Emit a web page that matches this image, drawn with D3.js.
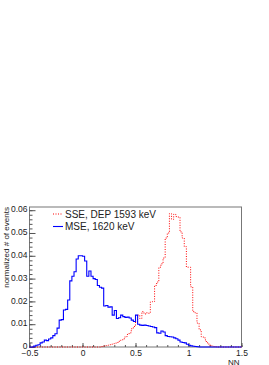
<!DOCTYPE html>
<html>
<head>
<meta charset="utf-8">
<script src="https://cdn.jsdelivr.net/npm/d3@7"></script>
<style>
  body { margin: 0; background: #fff; }
  text { font-family: "Liberation Sans", Arial, sans-serif; }
</style>
</head>
<body>
<div id="chart"></div>
<script>
// binning of the NN histograms (100 bins from -0.5 to 1.5)
var binStart = -0.5, binWidth = 0.02;

// MSE, 1620 keV (blue, solid)
var mseValues = [
  0, 0, 0.0004, 0.0008, 0.0010, 0.0018, 0.0022, 0.0030, 0.0028, 0.0035,
  0.0040, 0.0050, 0.0058, 0.0083, 0.0118, 0.0120, 0.0162, 0.0165, 0.0206, 0.0290,
  0.0310, 0.0330, 0.0386, 0.0400, 0.0400, 0.0398, 0.0377, 0.0310, 0.0333, 0.0310,
  0.0300, 0.0296, 0.0270, 0.0262, 0.0258, 0.0180, 0.0182, 0.0175, 0.0176, 0.0140,
  0.0160, 0.0125, 0.0128, 0.0140, 0.0133, 0.0130, 0.0131, 0.0127, 0.0118, 0.0112,
  0.0140, 0.0100, 0.0096, 0.0095, 0.0096, 0.0094, 0.0092, 0.0090, 0.0088, 0.0085,
  0.0062, 0.0060, 0.0070, 0.0066, 0.0050, 0.0046, 0.0045, 0.0044, 0.0040, 0.0036,
  0.0030, 0.0022, 0.0020, 0.0018, 0.0012, 0.0008, 0.0005, 0.0003, 0.0002, 0.0001,
  0, 0, 0, 0, 0, 0, 0, 0, 0, 0,
  0, 0, 0, 0, 0, 0, 0, 0, 0, 0
];

// SSE, DEP 1593 keV (red, dotted)
var sseValues = [
  0, 0, 0, 0, 0, 0, 0, 0, 0, 0,
  0, 0, 0, 0, 0, 0, 0, 0, 0, 0,
  0, 0, 0, 0, 0, 0, 0, 0, 0, 0,
  0, 0, 0, 0, 0.0002, 0.0004, 0.0006, 0.0008, 0.0010, 0.0014,
  0.0017, 0.0020, 0.0025, 0.0030, 0.0036, 0.0045, 0.0055, 0.0062, 0.0080, 0.0090,
  0.0110, 0.0140, 0.0125, 0.0155, 0.0145, 0.0150, 0.0148, 0.0198, 0.0200, 0.0270,
  0.0285, 0.0350, 0.0365, 0.0390, 0.0478, 0.0500, 0.0585, 0.0560, 0.0582, 0.0572,
  0.0570, 0.0505, 0.0478, 0.0440, 0.0350, 0.0350, 0.0264, 0.0155, 0.0150, 0.0105,
  0.0075, 0.0045, 0.0040, 0.0024, 0.0013, 0.0008, 0.0004, 0.0002, 0, 0,
  0, 0, 0, 0, 0, 0, 0, 0, 0, 0
];

var xTicks = [-0.5, 0, 0.5, 1, 1.5];
var yTicks = [0, 0.01, 0.02, 0.03, 0.04, 0.05, 0.06];
var legendLabels = ["SSE, DEP 1593 keV", "MSE, 1620 keV"];

var width = 269, height = 365;
var frame = {left: 29.5, right: 241.5, top: 207, bottom: 347};

var svg = d3.select("#chart").append("svg")
    .attr("width", width)
    .attr("height", height);

var x = d3.scaleLinear()
    .domain([-0.5, 1.5])
    .range([frame.left, frame.right]);

var y = d3.scaleLinear()
    .domain([0, 0.0614])
    .range([frame.bottom, frame.top]);

// step line like ROOT "HIST"
function toSteps(values) {
    var pts = values.map((v, i) => [binStart + i * binWidth, v]);
    pts.push([binStart + values.length * binWidth, values[values.length - 1]]);
    return pts;
}

var stepLine = d3.line()
    .x(d => x(d[0]))
    .y(d => y(d[1]))
    .curve(d3.curveStepAfter);

// frame
svg.append("rect")
    .attr("x", frame.left)
    .attr("y", frame.top)
    .attr("width", frame.right - frame.left)
    .attr("height", frame.bottom - frame.top)
    .attr("fill", "none")
    .attr("stroke", "#777")
    .attr("stroke-width", 1);

// x axis, ticks pointing up
var xMinor = svg.append("g")
    .attr("transform", "translate(0," + frame.bottom + ")")
    .call(d3.axisBottom(x).tickValues(d3.range(-0.5, 1.51, 0.1)).tickSize(-2).tickFormat(""));
xMinor.select(".domain").remove();

var xAxis = svg.append("g")
    .attr("transform", "translate(0," + frame.bottom + ")")
    .call(d3.axisBottom(x).tickValues(xTicks).tickSize(-4).tickPadding(3)
        .tickFormat(d => d3.format("")(d)));
xAxis.select(".domain").remove();

// y axis, ticks pointing right
var yMinor = svg.append("g")
    .attr("transform", "translate(" + frame.left + ",0)")
    .call(d3.axisLeft(y).tickValues(d3.range(0, 0.0615, 0.002)).tickSize(-3).tickFormat(""));
yMinor.select(".domain").remove();

var yAxis = svg.append("g")
    .attr("transform", "translate(" + frame.left + ",0)")
    .call(d3.axisLeft(y).tickValues(yTicks).tickSize(-6).tickPadding(2)
        .tickFormat(d => d === 0 ? "0" : d3.format(".2f")(d)));
yAxis.select(".domain").remove();
yAxis.selectAll(".tick text").attr("dy", "0.2em");

svg.selectAll(".tick line").attr("stroke", "#555");
svg.selectAll(".tick text")
    .attr("font-size", 8.5)
    .attr("fill", "#222")
    .style("font-family", "'Liberation Sans', Arial, sans-serif");

// axis titles
svg.append("text")
    .attr("x", frame.right - 2)
    .attr("y", 364.5)
    .attr("text-anchor", "end")
    .attr("font-size", 8)
    .attr("fill", "#222")
    .text("NN");

var yTitle = svg.append("text")
    .attr("transform", "translate(8.5," + frame.top + ") rotate(-90)")
    .attr("text-anchor", "end")
    .attr("font-size", 8)
    .attr("fill", "#222")
    .text("normalized # of events");
// title runs down to about y = 288 in the original
var titleLen = yTitle.node().getComputedTextLength();
if (titleLen > 0) yTitle.attr("font-size", 8 * 81 / titleLen);

// histograms
svg.append("path")
    .datum(toSteps(sseValues))
    .attr("d", stepLine)
    .attr("fill", "none")
    .attr("stroke", "#ff0000")
    .attr("stroke-width", 1)
    .attr("stroke-dasharray", "1,1.5");

svg.append("path")
    .datum(toSteps(mseValues))
    .attr("d", stepLine)
    .attr("fill", "none")
    .attr("stroke", "#0000ff")
    .attr("stroke-width", 1.1);

// legend
var legend = svg.append("g").attr("id", "legend");
var legendStyles = [
    {color: "#ff0000", dash: "1,1.5", width: 1, y: 214},
    {color: "#0000ff", dash: null, width: 1.1, y: 226.5}
];

legendLabels.forEach(function(label, i) {
    var s = legendStyles[i];
    legend.append("line")
        .attr("x1", 53).attr("x2", 63)
        .attr("y1", s.y).attr("y2", s.y)
        .attr("stroke", s.color)
        .attr("stroke-width", s.width)
        .attr("stroke-dasharray", s.dash);
    legend.append("text")
        .attr("x", 65)
        .attr("y", s.y + 3.5)
        .attr("font-size", 10)
        .attr("fill", "#222")
        .text(label);
});
</script>
</body>
</html>
